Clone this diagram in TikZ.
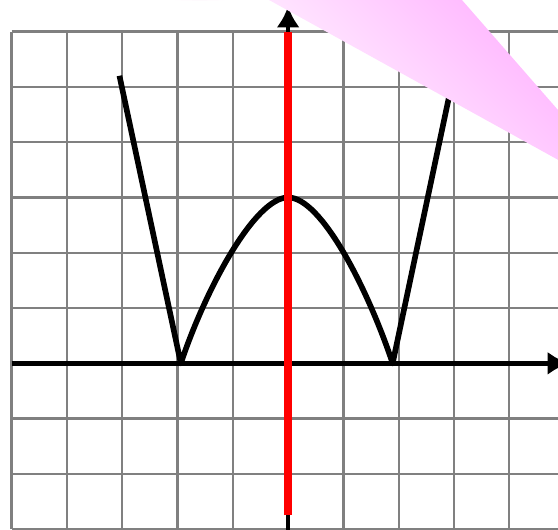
\documentclass[tikz,border=0pt]{standalone}
\usepackage{tikz}
\usetikzlibrary{arrows.meta}
\tikzset{
    gridline/.style={draw=gray, line width=1.2pt},
    axis/.style={draw, line width=2.3pt, -{Latex[length=11pt,width=12pt]}},
    graph/.style={draw, line width=2.9pt, line join=round},
    redline/.style={draw=red, line width=4.5pt},
    bubble/.style={bottom color=white, middle color=magenta!12, top color=magenta!34, shading angle=-45},
    bubbletop/.style={fill=magenta!3}
}

\begin{document}
\begin{tikzpicture}
    \clip (-5.21,-3.0) rectangle (4.88,6.57);

    % grid
    \draw[gridline] (-5,-3) grid (5,6);

    % axes
    \coordinate (xl) at (-5,0);
    \coordinate (xr) at (5.08,0);
    \coordinate (yb) at (0,-3.2);
    \coordinate (yt) at (0,6.46);
    \draw[axis] (xl) -- (xr);
    \draw[axis] (yb) -- (yt);

    % graph
    \coordinate (A) at (-3.05,5.2);
    \coordinate (B) at (-1.94,0);
    \coordinate (C) at (0,3);
    \coordinate (D) at (1.89,0);
    \coordinate (E) at (2.99,5.2);
    \draw[graph] (A) -- (B) .. controls (-1.49,1.35) and (-0.6,3) .. (C)
        .. controls (0.6,3) and (1.44,1.35) .. (D) -- (E);

    % red line
    \coordinate (rb) at (0,-2.75);
    \coordinate (rt) at (0,6);
    \draw[redline] (rb) -- (rt);

    % bubble
    \fill[bubbletop] (-1.6,7.56) ellipse [x radius=3.2, y radius=1.0];
    \coordinate (p1) at (-0.58,6.7);
    \coordinate (p2) at (3.03,6.7);
    \coordinate (tip) at (6.4,2.84);
    \shade[bubble] (p1) -- (p2) -- (tip) -- cycle;
\end{tikzpicture}
\end{document}
